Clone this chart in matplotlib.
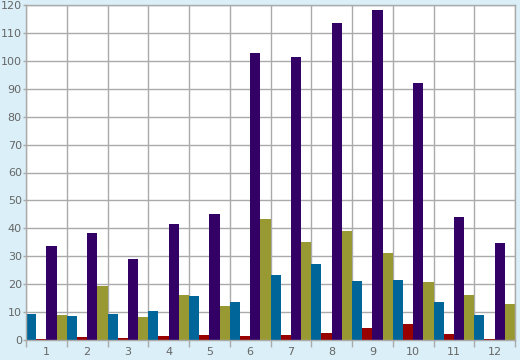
import matplotlib
matplotlib.use("Agg")
import matplotlib.pyplot as plt
import numpy as np

categories = ["1", "2", "3", "4", "5", "6", "7", "8", "9", "10", "11", "12"]
series_blue = [9.3, 8.6, 9.3, 10.4, 15.7, 13.6, 23.2, 27.1, 21.1, 21.4, 13.6, 8.9]
series_red = [0.4, 1.1, 0.7, 1.4, 1.8, 1.4, 1.8, 2.5, 4.3, 5.7, 2.1, 0.3]
series_purple = [33.6, 38.2, 28.9, 41.4, 45.0, 102.9, 101.4, 113.6, 118.2, 92.1, 43.9, 34.6]
series_olive = [8.9, 19.3, 8.2, 16.1, 12.1, 43.2, 35.0, 38.9, 31.1, 20.7, 16.1, 12.9]
yticks = list(range(0, 121, 10))

colors = ["#006699", "#990000", "#330066", "#999933"]
bg = "#daeff7"
grid = "#aaaaaa"
txt = "#666666"

fig = plt.figure(figsize=(5.2, 3.6), dpi=100, facecolor=bg)
ax = fig.add_axes([26/520, 20/360, 489/520, 335/360])
ax.set_facecolor("white")

n = len(categories)
x = np.arange(n)
w = 0.25
for k, (vals, c) in enumerate(zip([series_blue, series_red, series_purple, series_olive], colors)):
    ax.bar(x + w/2 + k*w, vals, width=w, color=c, linewidth=0, zorder=3)

ax.set_xlim(0, n)
ax.set_ylim(0, 120)
ax.set_xticks(np.arange(0, n + 1))
ax.set_xticklabels([])
ax.set_xticks(x + 0.5, minor=True)
ax.set_xticklabels(categories, minor=True)
ax.tick_params(axis="x", which="major", length=5, color=grid, width=1, direction="out")
ax.tick_params(axis="x", which="minor", length=0, labelsize=8, labelcolor=txt, pad=5)
ax.set_yticks(yticks)
ax.tick_params(axis="y", length=2, color=grid, width=1, labelsize=8, labelcolor=txt, pad=1)
ax.grid(True, which="major", color=grid, linewidth=1, zorder=0)
ax.set_axisbelow(True)
for s in ax.spines.values():
    s.set_color(grid)
    s.set_linewidth(1)
    s.set_zorder(4)

fig.savefig("out.png", dpi=100, facecolor=bg)
